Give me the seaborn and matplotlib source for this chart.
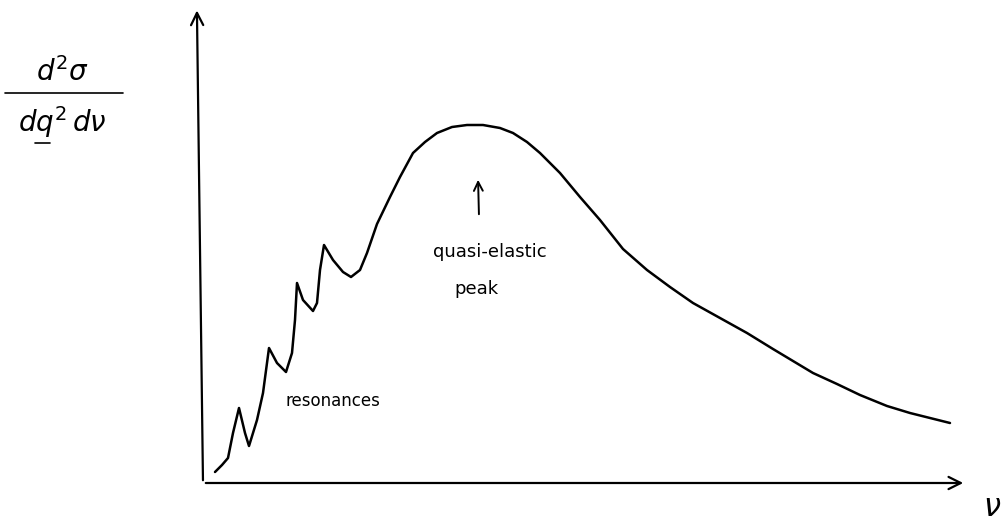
import numpy as np
import pandas as pd
import matplotlib
matplotlib.use("Agg")
import matplotlib.pyplot as plt
from matplotlib.lines import Line2D
import seaborn as sns

# sketch of the inclusive cross section vs energy transfer (arbitrary units)
nu = [12, 19, 25, 30, 36, 42, 46, 54, 60, 66, 74, 83, 89, 92, 94, 100, 110, 114,
      117, 121, 130, 140, 148, 157, 164, 174, 187, 197, 210, 222, 234, 249, 264,
      280, 297, 310, 324, 337, 357, 367, 377, 397, 420, 444, 467, 490, 517, 544,
      570, 610, 634, 657, 684, 707, 747]
xsec = [11, 18, 25, 50, 75, 50, 37, 63, 90, 135, 120, 111, 130, 163, 200, 183, 172,
        180, 213, 238, 223, 211, 206, 213, 230, 259, 286, 306, 330, 341, 350, 356,
        358, 358, 355, 350, 341, 330, 310, 298, 286, 263, 234, 213, 196, 180, 165,
        150, 134, 110, 99, 88, 77, 70, 60]

peak_nu = 276
peak_arrow = (266, 306)

df = pd.DataFrame({"nu": nu, "xsec": xsec})

sns.set_theme(style="white")
plt.rcParams["font.family"] = ["DejaVu Sans"]

W, H = 1007, 522
fig = plt.figure(figsize=(W / 100, H / 100), dpi=100)
ax = fig.add_axes([203 / W, (H - 483) / H, 763 / W, 473 / H])

sns.lineplot(data=df, x="nu", y="xsec", ax=ax, color="black", linewidth=1.8,
             estimator=None, sort=False)
ax.set_xlim(0, 763)
ax.set_ylim(0, 473)
ax.set_xlabel("")
ax.set_ylabel("")
ax.set_xticks([])
ax.set_yticks([])
for s in ax.spines.values():
    s.set_visible(False)
ax.patch.set_alpha(0)

# hand-drawn style axes with arrows
arrow = dict(arrowstyle="->", color="black", lw=1.6, mutation_scale=22)
ax.annotate("", xy=(-0.008, 1.005), xytext=(0, 0), xycoords="axes fraction",
            textcoords="axes fraction", arrowprops=arrow, annotation_clip=False)
ax.annotate("", xy=(1.0, 0), xytext=(0, 0), xycoords="axes fraction",
            textcoords="axes fraction", arrowprops=arrow, annotation_clip=False)

# quasi-elastic peak arrow
ax.annotate("", xy=(peak_nu - 1, peak_arrow[1]), xytext=(peak_nu, peak_arrow[0]),
            arrowprops=dict(arrowstyle="->", color="black", lw=1.4, mutation_scale=16))

def px(x, y):
    return x / W, 1 - y / H

fig.text(*px(490, 252), "quasi-elastic", ha="center", va="center", fontsize=13,
         color="black")
fig.text(*px(476, 289), "peak", ha="center", va="center", fontsize=13, color="black")
fig.text(*px(333, 401), "resonances", ha="center", va="center", fontsize=12,
         color="black")
fig.text(*px(992, 508), r"$\nu$", ha="center", va="center", fontsize=22,
         color="black")

# y label drawn as a fraction
fig.text(*px(63, 72), r"$d^2\sigma$", ha="center", va="center", fontsize=20,
         color="black")
fig.text(*px(62, 122), r"$dq^2\,d\nu$", ha="center", va="center", fontsize=20,
         color="black")
fig.add_artist(Line2D([5 / W, 123 / W], [1 - 93 / H, 1 - 93 / H], color="black",
                      lw=1.2, transform=fig.transFigure))
fig.add_artist(Line2D([35 / W, 50 / W], [1 - 143 / H, 1 - 143 / H], color="black",
                      lw=1.2, transform=fig.transFigure))

fig.savefig("out.png", dpi=100, facecolor="white")
